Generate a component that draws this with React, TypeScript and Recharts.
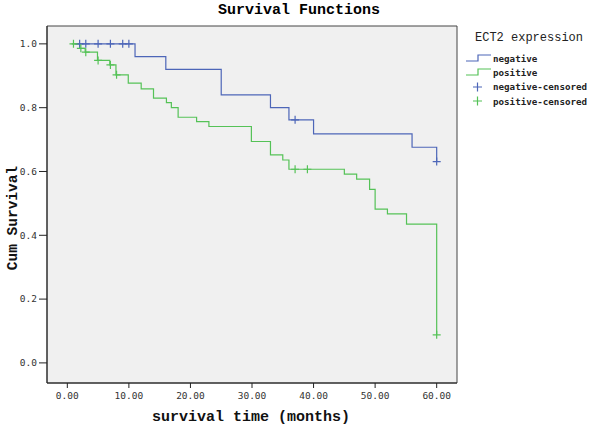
import { ComposedChart, Line, Scatter, XAxis, YAxis, ReferenceArea, Label } from "recharts";

// step points of the KM curves (time in months, cumulative survival)
const negTime = [1.2, 11, 16, 25, 33, 36, 40, 56, 60];
const negSurv = [1, 0.96, 0.92, 0.84, 0.8, 0.762, 0.718, 0.676, 0.631];
const posTime = [0.7, 2.0, 2.9, 4.9, 6.9, 7.9, 9.9, 12, 14, 16.1, 16.9, 18, 21, 23, 29.9, 33, 35, 36, 45, 47, 49.1, 50, 52, 55.1, 60];
const posSurv = [1, 0.986, 0.974, 0.948, 0.934, 0.903, 0.877, 0.859, 0.83, 0.816, 0.8, 0.77, 0.756, 0.741, 0.694, 0.652, 0.636, 0.607, 0.592, 0.576, 0.544, 0.482, 0.467, 0.435, 0.088];

// censored observations
const negCensTime = [2, 3, 5, 7, 9, 10, 37, 60];
const negCensSurv = [1, 1, 1, 1, 1, 1, 0.762, 0.631];
const posCensTime = [1, 2.2, 3, 5, 7, 8, 37, 39, 60];
const posCensSurv = [1, 0.986, 0.974, 0.948, 0.934, 0.903, 0.607, 0.607, 0.088];

const xTicks = [0, 10, 20, 30, 40, 50, 60];
const yTicks = [0, 0.2, 0.4, 0.6, 0.8, 1.0];
const legendItems = ["negative", "positive", "negative-censored", "positive-censored"];

const BLUE = "#4d66b8";
const GREEN = "#55c257";
const MONO = "'DejaVu Sans Mono', monospace";
const SERIF_MONO = "'Liberation Mono', 'Courier New', monospace";

const toPts = (ts: number[], ss: number[]) => ts.map((t, i) => ({ t, s: ss[i] }));

const cross = (color: string) => (props: any) => {
  const { cx, cy } = props;
  return <path d={`M${cx - 4},${cy}h8M${cx},${cy - 4}v8`} stroke={color} strokeWidth={1.2} fill="none" />;
};

function LegendBox() {
  return (
    <div style={{ position: "absolute", left: 464, top: 31, fontFamily: MONO, color: "#222" }}>
      <div style={{ fontFamily: SERIF_MONO, fontSize: 12, marginLeft: 11, height: 20 }}>ECT2 expression</div>
      {legendItems.map((name, i) => {
        const color = i % 2 === 0 ? BLUE : GREEN;
        return (
          <div key={name} style={{ display: "flex", alignItems: "center", height: 14.3 }}>
            <svg width={28} height={12}>
              {i < 2 ? (
                <path d="M2,9H14V3H27" stroke={color} strokeWidth={1.2} fill="none" />
              ) : (
                <path d="M9,6h9M13.5,1.5v9" stroke={color} strokeWidth={1.2} fill="none" />
              )}
            </svg>
            <span style={{ fontSize: 9.2, marginLeft: 1, fontWeight: 600 }}>{name}</span>
          </div>
        );
      })}
    </div>
  );
}

export default function App() {
  return (
    <div style={{ position: "absolute", left: 0, top: 0, width: 600, height: 425, background: "#fff" }}>
      <div
        style={{
          position: "absolute",
          left: 0,
          width: 600,
          top: 2,
          textAlign: "center",
          fontFamily: SERIF_MONO,
          fontWeight: "bold",
          fontSize: 15,
        }}
      >
        <span style={{ position: "relative", left: -1 }}>Survival Functions</span>
      </div>
      <ComposedChart width={600} height={425} margin={{ top: 26, right: 143, bottom: 0, left: 0 }}>
        <ReferenceArea x1={-3.3} x2={63.3} y1={-0.063} y2={1.056} fill="#f0f0f0" fillOpacity={1} stroke="#444" />
        <XAxis
          type="number"
          dataKey="t"
          domain={[-3.3, 63.3]}
          ticks={xTicks}
          allowDataOverflow
          height={42}
          tickSize={5}
          tickMargin={4}
          tickFormatter={(v: number) => v.toFixed(2)}
          tick={{ fontSize: 9.5, fontFamily: MONO, fill: "#333" }}
          axisLine={{ stroke: "#222" }}
          tickLine={{ stroke: "#222" }}
        >
          <Label
            content={() => (
              <text x={251} y={421} textAnchor="middle" fontFamily={SERIF_MONO} fontWeight="bold" fontSize={15} fill="#111">
                survival time (months)
              </text>
            )}
          />
        </XAxis>
        <YAxis
          type="number"
          dataKey="s"
          domain={[-0.063, 1.056]}
          ticks={yTicks}
          allowDataOverflow
          width={47}
          tickSize={8}
          tickMargin={2}
          tickFormatter={(v: number) => v.toFixed(1)}
          tick={{ fontSize: 9.5, fontFamily: MONO, fill: "#333" }}
          axisLine={{ stroke: "#222" }}
          tickLine={{ stroke: "#222" }}
        >
          <Label
            content={() => (
              <text
                x={16.5}
                y={218}
                textAnchor="middle"
                transform="rotate(-90 16.5 218)"
                fontFamily={SERIF_MONO}
                fontWeight="bold"
                fontSize={14.5}
                fill="#111"
              >
                Cum Survival
              </text>
            )}
          />
        </YAxis>
        <Line
          data={toPts(negTime, negSurv)}
          dataKey="s"
          type="stepAfter"
          stroke={BLUE}
          strokeWidth={1.2}
          dot={false}
          isAnimationActive={false}
        />
        <Line
          data={toPts(posTime, posSurv)}
          dataKey="s"
          type="stepAfter"
          stroke={GREEN}
          strokeWidth={1.2}
          dot={false}
          isAnimationActive={false}
        />
        <Scatter data={toPts(negCensTime, negCensSurv)} dataKey="s" shape={cross(BLUE)} isAnimationActive={false} />
        <Scatter data={toPts(posCensTime, posCensSurv)} dataKey="s" shape={cross(GREEN)} isAnimationActive={false} />
      </ComposedChart>
      <LegendBox />
    </div>
  );
}
